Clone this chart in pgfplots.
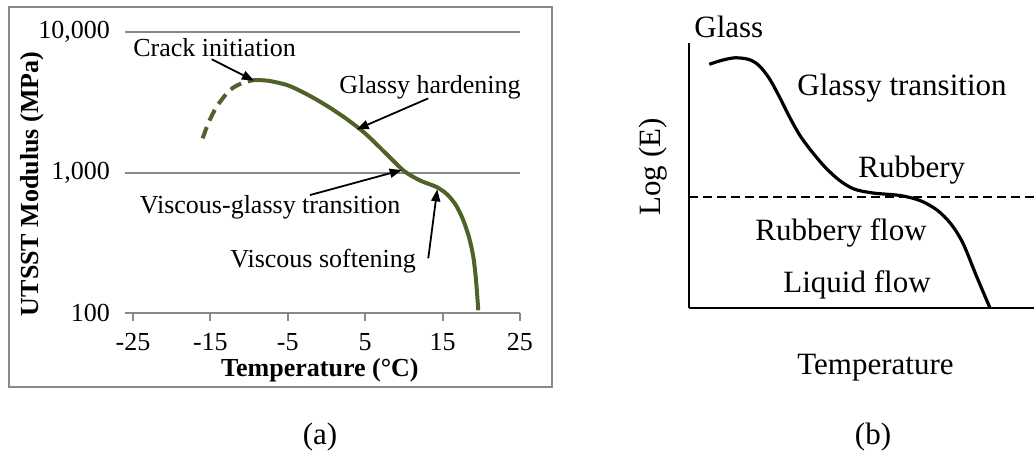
\documentclass[border=0pt]{standalone}
\usepackage{pgfplots}
\pgfplotsset{compat=1.18}
\usepackage{fontspec}
\setmainfont{Liberation Serif}
\usetikzlibrary{arrows.meta}

\definecolor{curvegreen}{RGB}{79,98,40}
\definecolor{axisgray}{RGB}{137,137,137}

\newcommand{\fa}{\fontsize{13}{15}\selectfont}
\newcommand{\fb}{\fontsize{15.5}{18}\selectfont}

\begin{document}
\begin{tikzpicture}
\useasboundingbox (0,0) rectangle (517pt,-234pt);

% frame around panel (a)
\draw[axisgray, line width=1pt] (4.5pt,-3.5pt) rectangle (276pt,-193.5pt);

% ---------------- panel (a): UTSST modulus vs temperature ----------------
\begin{axis}[
  at={(66.5pt,-156.65pt)}, anchor=south west,
  scale only axis, width=193.5pt, height=140.65pt,
  xmin=-25, xmax=25,
  ymode=log, log basis y=10, ymin=100, ymax=10000,
  axis x line*=bottom, axis y line*=left,
  x axis line style={draw=axisgray, line width=1pt, -},
  y axis line style={draw=none, -},
  xtick={-25,-15,-5,5,15,25},
  xticklabels={-25,-15,-5,5,15,25},
  ytick={100,1000,10000},
  yticklabels={100,{1,000},{10,000}},
  yminorticks=false, xminorticks=false,
  ymajorgrids, grid style={axisgray, line width=1pt},
  tick align=outside, major tick length=4pt,
  tick style={axisgray, line width=1pt},
  ticklabel style={font=\fa},
  xticklabel style={yshift=-2.5pt},
  yticklabel style={xshift=-4pt},
  xlabel={\textbf{Temperature (°C)}},
  xlabel style={font=\fa, at={(axis description cs:0.483,-0.223)}, anchor=base},
  ylabel={\textbf{UTSST Modulus (MPa)}},
  ylabel style={font=\fa, at={(axis description cs:-0.243,0.46)}, anchor=base, rotate=0},
  clip=false,
]
% dashed lead-in before crack initiation
\addplot[curvegreen, line width=2pt, smooth, tension=0.5, dash pattern=on 6pt off 3.5pt]
  coordinates {(-16,1754) (-15.27,2244) (-14.19,2945) (-12.47,3865) (-10.75,4370) (-9.24,4560)};
% measured modulus curve
\addplot[curvegreen, line width=2pt, smooth, tension=0.45]
  coordinates {(-9.24,4560) (-7.5,4500) (-5,4180) (-2.5,3600) (0,3000)
               (2.5,2430) (5,1900) (7.5,1400) (10,1030) (12.08,880) (14.24,790)
               (15.6,700) (16.7,590) (17.6,470) (18.4,350) (18.97,252)
               (19.32,172) (19.61,105)};

% annotations
\node[anchor=base west, inner sep=0pt, font=\fa] at (axis cs:-25,6668) {Crack initiation};
\draw[-{Triangle[length=6pt,width=4.5pt]}, line width=0.9pt]
  (axis cs:-14.83,6398) -- (axis cs:-9.37,4511);
\node[anchor=base west, inner sep=0pt, font=\fa] at (axis cs:1.61,3652) {Glassy hardening};
\draw[-{Triangle[length=6pt,width=4.5pt]}, line width=0.9pt]
  (axis cs:13.15,3375) -- (axis cs:3.9,2031);
\node[anchor=base west, inner sep=0pt, font=\fa] at (axis cs:-24.16,513) {Viscous-glassy transition};
\draw[-{Triangle[length=6pt,width=4.5pt]}, line width=0.9pt]
  (axis cs:-2.13,693) -- (axis cs:9.72,1043);
\node[anchor=base west, inner sep=0pt, font=\fa] at (axis cs:-12.47,213) {Viscous softening};
\draw[-{Triangle[length=6pt,width=4.5pt]}, line width=0.9pt]
  (axis cs:13.15,246) -- (axis cs:14.31,761);
\end{axis}

% ---------------- panel (b): schematic modulus regions ----------------
\begin{axis}[
  at={(344.5pt,-154pt)}, anchor=south west,
  scale only axis, width=172.5pt, height=132.5pt,
  xmin=0, xmax=345, ymin=0, ymax=265,
  axis lines=left,
  axis line style={black, line width=1.2pt, -},
  xtick=\empty, ytick=\empty,
  clip=false,
]
\addplot[black, line width=1.2pt, dash pattern=on 4.5pt off 2.5pt]
  coordinates {(0,111) (345,111)};
\addplot[black, line width=1.6pt, smooth, tension=0.5]
  coordinates {(20.3,243.7) (32,247.5) (46,250.2) (60,248.5) (70,242.5)
               (80,230) (90,212) (100,192) (110,174) (120,160)
               (135,142) (150,128) (165,119) (184,115) (211,112.5) (231,107.5)
               (248,98) (262,84) (274,64.7) (287.7,31.3) (301,0)};
\end{axis}

\begin{scope}[font=\fb]
\node[anchor=base west, inner sep=0pt] at (347pt,-18.5pt) {Glass};
\node[anchor=base west, inner sep=0pt] at (398.5pt,-47.5pt) {Glassy transition};
\node[anchor=base west, inner sep=0pt] at (429pt,-88.5pt) {Rubbery};
\node[anchor=base west, inner sep=0pt] at (377.5pt,-120.25pt) {Rubbery flow};
\node[anchor=base west, inner sep=0pt] at (391.5pt,-146pt) {Liquid flow};
\node[anchor=base west, inner sep=0pt] at (398.5pt,-187pt) {Temperature};
\node[anchor=base, inner sep=0pt, rotate=90] at (330pt,-83.5pt) {Log (E)};
\node[anchor=center] at (160pt,-218.5pt) {(a)};
\node[anchor=center] at (436.5pt,-218.5pt) {(b)};
\end{scope}
\end{tikzpicture}
\end{document}
